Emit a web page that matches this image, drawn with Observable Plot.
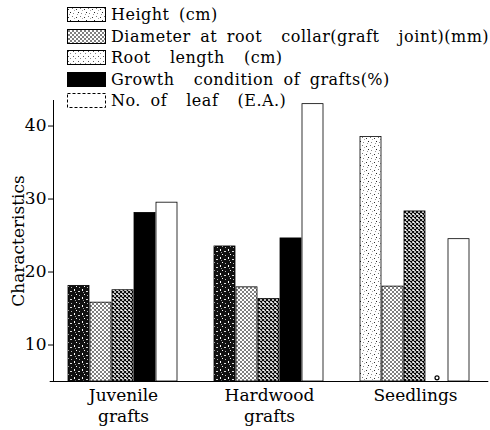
<!DOCTYPE html>
<html><head><meta charset="utf-8">
<script src="https://cdn.jsdelivr.net/npm/d3@7"></script>
<script src="https://cdn.jsdelivr.net/npm/@observablehq/plot@0.6"></script>
<style>
body{margin:0;background:#fff;}
#wrap{position:relative;width:490px;height:430px;}
#legend{position:absolute;left:67px;top:4px;font-family:"DejaVu Serif";font-size:16px;color:#000;letter-spacing:0.5px;word-spacing:4px;white-space:pre;}
.row{display:flex;align-items:center;height:21.5px;}
.row svg{margin-right:5px;flex:none;}
#chart{position:absolute;left:0;top:0;}
</style></head><body>
<svg width="0" height="0" style="position:absolute">
<defs>
<pattern id="hDark" width="8" height="8" patternUnits="userSpaceOnUse">
<rect width="8" height="8" fill="#111"/>
<rect x="1" y="1" width="1" height="2" fill="#fff"/>
<rect x="5" y="3" width="2" height="1" fill="#ddd"/>
<rect x="3" y="6" width="1" height="1" fill="#fff"/>
<rect x="6" y="7" width="1" height="1" fill="#bbb"/>
<rect x="2" y="4" width="1" height="1" fill="#999"/>
</pattern>
<pattern id="hLight" width="8" height="8" patternUnits="userSpaceOnUse">
<rect width="8" height="8" fill="#fff"/>
<rect x="1" y="2" width="1" height="1" fill="#333"/>
<rect x="5" y="1" width="1" height="1" fill="#777"/>
<rect x="3" y="5" width="1" height="1" fill="#222"/>
<rect x="6" y="6" width="1" height="1" fill="#888"/>
<rect x="2" y="7" width="1" height="1" fill="#999"/>
<rect x="7" y="3" width="1" height="1" fill="#aaa"/>
</pattern>
<pattern id="diam" width="4" height="4" patternUnits="userSpaceOnUse">
<rect width="4" height="4" fill="#fff"/>
<path d="M0,0L4,4M4,0L0,4" stroke="#000" stroke-width="0.5"/>
</pattern>
<pattern id="root" width="4" height="4" patternUnits="userSpaceOnUse">
<rect width="4" height="4" fill="#fff"/>
<path d="M0,0L4,4M4,0L0,4" stroke="#000" stroke-width="1.1"/>
</pattern>
<pattern id="rootLeg" width="5" height="5" patternUnits="userSpaceOnUse">
<rect width="5" height="5" fill="#fff"/>
<rect x="1" y="1" width="1" height="1" fill="#555"/>
<rect x="3" y="3" width="1" height="1" fill="#888"/>
</pattern>
</defs>
</svg>
<div id="wrap"><div id="chart"></div><div id="legend"></div></div>
<script>
const groups = ["Juvenile grafts", "Hardwood grafts", "Seedlings"];
const seriesNames = ["Height (cm)", "Diameter at root collar(graft  joint)(mm)", "Root length (cm)", "Growth condition of grafts(%)", "No. of leaf (E.A.)"];
const heightCm = [18.1, 23.5, 38.5];
const diameterMm = [15.8, 17.9, 18.0];
const rootLengthCm = [17.5, 16.3, 28.3];
const growthPct = [28.1, 24.6, 5.5];
const leafCount = [29.5, 43.0, 24.5];
const yTicks = [10, 20, 30, 40];

const valuesBySeries = [heightCm, diameterMm, rootLengthCm, growthPct, leafCount];
const data = groups.flatMap((g, i) => seriesNames.map((s, j) => ({group: g, series: s, si: j, value: valuesBySeries[j][i]})));

const fills = ["url(#hDark)", "url(#diam)", "url(#root)", "#000", "#fff"];
const fillFor = d => d.si === 0 && d.group === "Seedlings" ? "url(#hLight)" : fills[d.si];
const bars = data.filter(d => d.value > 6);
const dots = data.filter(d => d.value <= 6);

const chart = Plot.plot({
  width: 490, height: 430,
  marginLeft: 52, marginRight: 5, marginTop: 100, marginBottom: 49,
  style: {fontFamily: "DejaVu Serif", background: "transparent", color: "#000"},
  fx: {domain: groups, paddingInner: 0.044, paddingOuter: 0},
  x: {domain: seriesNames, paddingInner: 0.04, paddingOuter: 0.68},
  y: {domain: [5, 43.5]},
  color: {type: "identity"},
  marks: [
    Plot.barY(bars, {fx: "group", x: "series", y1: 5, y2: "value", fill: fillFor, stroke: "#000", strokeWidth: 0.8}),
    Plot.dot(dots, {fx: "group", x: "series", y: "value", r: 2, stroke: "#000", fill: "#fff", strokeWidth: 1.2}),
    Plot.ruleY([5], {insetLeft: -3.3, insetRight: -3.3, strokeWidth: 1}),
    Plot.frame({anchor: "left", facetAnchor: "left", strokeWidth: 1}),
    Plot.axisY({ticks: yTicks, tickSize: 5, tickPadding: 2, fontSize: 17, label: "Characteristics", labelArrow: "none", labelAnchor: "center", labelOffset: 42}),
    Plot.axisX({ticks: [], label: null}),
    Plot.axisFx({anchor: "bottom", label: null, tickSize: 0, tickPadding: 4, fontSize: 17, lineHeight: 1.25, tickFormat: d => d.replace(" ", "\n")})
  ]
});
document.getElementById("chart").appendChild(chart);

const legend = document.getElementById("legend");
const legendFills = ["url(#hLight)", "url(#diam)", "url(#rootLeg)", "#000", "#fff"];
const legendLabels = ["Height (cm)", "Diameter at root  collar(graft  joint)(mm)", "Root  length  (cm)", "Growth  condition of grafts(%)", "No. of  leaf  (E.A.)"];
legendLabels.forEach((lab, i) => {
  const row = document.createElement("div");
  row.className = "row";
  const dash = i === 4 ? ' stroke-dasharray="3,2"' : '';
  row.innerHTML = `<svg width="39" height="15"><rect x="0.5" y="0.5" width="38" height="14" fill="${legendFills[i]}" stroke="#000" stroke-width="1"${dash}/></svg><span>${lab}</span>`;
  legend.appendChild(row);
});
</script>
</body></html>
